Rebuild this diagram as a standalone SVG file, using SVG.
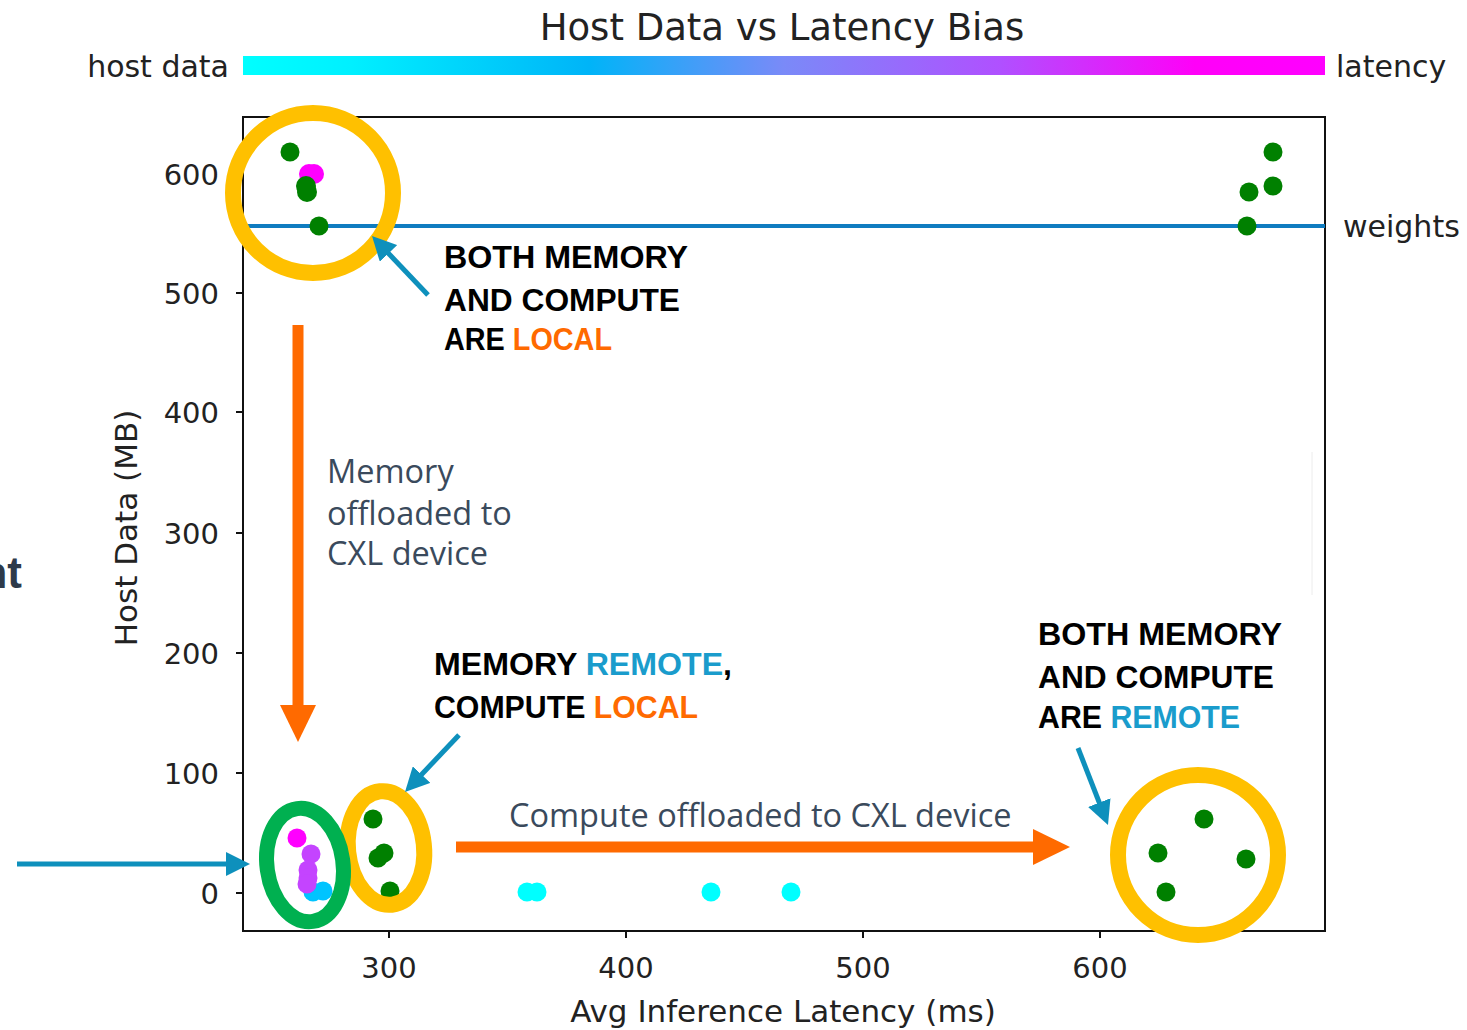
<svg xmlns="http://www.w3.org/2000/svg" width="1467" height="1030" viewBox="0 0 1467 1030">
<style>
.ax{font-family:"DejaVu Sans",sans-serif;font-size:30px;fill:#222}
.axl{font-family:"DejaVu Sans",sans-serif;font-size:31px;fill:#222}
.tk{font-family:"DejaVu Sans",sans-serif;font-size:29px;fill:#222}
.note{font-family:"Liberation Sans",Arial,sans-serif;font-weight:bold;font-size:32px;fill:#000}
.gray{font-family:"Open Sans",sans-serif;font-size:32.5px;fill:#3a4a5c}
.or{fill:#ff6a00}
.bl{fill:#1a9ccc}
.g{fill:#008000}
.c{fill:#00ffff}
.m{fill:#ff00ff}
.p{fill:#c444ff}
.lb{fill:#00c4ff}
.ring{fill:none;stroke:#ffc000;stroke-width:16}
.blue{stroke:#0e90bc;stroke-width:5;fill:none}
.orange{stroke:#ff6a00;stroke-width:11;fill:none}
</style>
<defs>
<linearGradient id="cb" x1="0" x2="1" y1="0" y2="0">
<stop offset="0" stop-color="#00ffff"/>
<stop offset="0.1" stop-color="#00f0ff"/>
<stop offset="0.32" stop-color="#00b4f8"/>
<stop offset="0.5" stop-color="#7a8af8"/>
<stop offset="0.7" stop-color="#b050ff"/>
<stop offset="0.88" stop-color="#ff00f8"/>
<stop offset="1" stop-color="#ff00ff"/>
</linearGradient>
<marker id="bh" viewBox="0 0 10 10" refX="6.67" refY="5" markerWidth="24" markerHeight="24" markerUnits="userSpaceOnUse" orient="auto">
<path d="M0,0 L10,5 L0,10 z" fill="#0e90bc"/>
</marker>
</defs>
<rect width="1467" height="1030" fill="#fff"/>

<g id="title">
<text x="782" y="40" text-anchor="middle" font-family="DejaVu Sans,sans-serif" font-size="37" fill="#222">Host Data vs Latency Bias</text>
</g>
<g id="colorbar">
<rect x="243" y="56" width="1082" height="19" fill="url(#cb)"/>
<text class="ax" x="229" y="77" text-anchor="end">host data</text>
<text class="ax" x="1336" y="77">latency</text>
</g>

<g id="axes">
<rect x="243" y="117" width="1082" height="814" fill="none" stroke="#111" stroke-width="2"/>
<g stroke="#111" stroke-width="2">
<line x1="236" y1="174" x2="243" y2="174"/>
<line x1="236" y1="293" x2="243" y2="293"/>
<line x1="236" y1="412" x2="243" y2="412"/>
<line x1="236" y1="533" x2="243" y2="533"/>
<line x1="236" y1="653" x2="243" y2="653"/>
<line x1="236" y1="773" x2="243" y2="773"/>
<line x1="236" y1="893" x2="243" y2="893"/>
<line x1="389" y1="931" x2="389" y2="938"/>
<line x1="626" y1="931" x2="626" y2="938"/>
<line x1="863" y1="931" x2="863" y2="938"/>
<line x1="1100" y1="931" x2="1100" y2="938"/>
</g>
<text class="tk" x="219" y="185" text-anchor="end">600</text>
<text class="tk" x="219" y="304" text-anchor="end">500</text>
<text class="tk" x="219" y="423" text-anchor="end">400</text>
<text class="tk" x="219" y="544" text-anchor="end">300</text>
<text class="tk" x="219" y="664" text-anchor="end">200</text>
<text class="tk" x="219" y="784" text-anchor="end">100</text>
<text class="tk" x="219" y="904" text-anchor="end">0</text>
<text class="tk" x="389" y="978" text-anchor="middle">300</text>
<text class="tk" x="626" y="978" text-anchor="middle">400</text>
<text class="tk" x="863" y="978" text-anchor="middle">500</text>
<text class="tk" x="1100" y="978" text-anchor="middle">600</text>
<text class="axl" x="783" y="1022" text-anchor="middle">Avg Inference Latency (ms)</text>
<text class="axl" transform="translate(137,528) rotate(-90)" text-anchor="middle">Host Data (MB)</text>
<line x1="1312" y1="452" x2="1312" y2="595" stroke="#ececec" stroke-width="1"/>
</g>

<g id="weights">
<line x1="243" y1="226" x2="1325" y2="226" stroke="#0f7cc0" stroke-width="4"/>
<text class="ax" x="1343" y="237">weights</text>
</g>

<g id="points">
<circle class="g" cx="290" cy="152" r="9.5"/>
<circle class="m" cx="309" cy="174" r="10"/>
<circle class="m" cx="314" cy="174" r="10"/>
<circle class="g" cx="306" cy="186" r="10"/>
<circle class="g" cx="307" cy="192" r="10"/>
<circle class="g" cx="319" cy="226" r="9.5"/>
<circle class="g" cx="1273" cy="152" r="9.5"/>
<circle class="g" cx="1273" cy="186" r="9.5"/>
<circle class="g" cx="1249" cy="192" r="9.5"/>
<circle class="g" cx="1247" cy="226" r="9.5"/>
<circle class="c" cx="527" cy="892" r="9.5"/>
<circle class="c" cx="537" cy="892" r="9.5"/>
<circle class="c" cx="711" cy="892" r="9.5"/>
<circle class="c" cx="791" cy="892" r="9.5"/>
<circle class="lb" cx="313" cy="892" r="9.5"/>
<circle class="lb" cx="323" cy="891" r="9.5"/>
<circle class="m" cx="297" cy="838" r="9.5"/>
<circle class="p" cx="311" cy="854" r="9.5"/>
<circle class="p" cx="308" cy="870" r="9.5"/>
<circle class="p" cx="308" cy="878" r="9.5"/>
<circle class="p" cx="307" cy="884" r="9.5"/>
<circle class="g" cx="373" cy="819" r="9.5"/>
<circle class="g" cx="378" cy="858" r="9.5"/>
<circle class="g" cx="384" cy="853" r="9.5"/>
<circle class="g" cx="390" cy="891" r="9.5"/>
<circle class="g" cx="1204" cy="819" r="9.5"/>
<circle class="g" cx="1158" cy="853" r="9.5"/>
<circle class="g" cx="1246" cy="859" r="9.5"/>
<circle class="g" cx="1166" cy="892" r="9.5"/>
</g>

<g id="rings">
<circle class="ring" cx="313" cy="193" r="80"/>
<circle class="ring" cx="1198" cy="855" r="80"/>
<ellipse class="ring" cx="386" cy="848" rx="38" ry="57" transform="rotate(-6 386 848)"/>
<ellipse cx="305" cy="865" rx="38" ry="57" transform="rotate(-8 305 865)" fill="none" stroke="#00b050" stroke-width="15"/>
</g>

<g id="connectors">
<line class="blue" x1="428" y1="295" x2="377.5" y2="241.8" marker-end="url(#bh)"/>
<line class="blue" x1="459" y1="735" x2="410.5" y2="786.2" marker-end="url(#bh)"/>
<line class="blue" x1="1078" y1="748" x2="1105.1" y2="817.5" marker-end="url(#bh)"/>
<line class="blue" x1="17" y1="864" x2="242" y2="864" marker-end="url(#bh)"/>
<line class="orange" x1="298" y1="325" x2="298" y2="707"/>
<polygon points="280,705 316,705 298,742" fill="#ff6a00"/>
<line class="orange" x1="456" y1="847" x2="1035" y2="847"/>
<polygon points="1033,829 1033,865 1070,847" fill="#ff6a00"/>
</g>

<g id="label-local">
<text class="note" x="444" y="268" textLength="244" lengthAdjust="spacingAndGlyphs">BOTH MEMORY</text>
<text class="note" x="444" y="311" textLength="236" lengthAdjust="spacingAndGlyphs">AND COMPUTE</text>
<text class="note" x="444" y="350" textLength="168" lengthAdjust="spacingAndGlyphs">ARE <tspan class="or">LOCAL</tspan></text>
</g>
<g id="label-mixed">
<text class="note" x="434" y="675" textLength="298" lengthAdjust="spacingAndGlyphs">MEMORY <tspan class="bl">REMOTE</tspan>,</text>
<text class="note" x="434" y="718" textLength="264" lengthAdjust="spacingAndGlyphs">COMPUTE <tspan class="or">LOCAL</tspan></text>
</g>
<g id="label-remote">
<text class="note" x="1038" y="645" textLength="244" lengthAdjust="spacingAndGlyphs">BOTH MEMORY</text>
<text class="note" x="1038" y="688" textLength="236" lengthAdjust="spacingAndGlyphs">AND COMPUTE</text>
<text class="note" x="1038" y="728" textLength="202" lengthAdjust="spacingAndGlyphs">ARE <tspan class="bl">REMOTE</tspan></text>
</g>
<g id="label-memory">
<text class="gray" x="327" y="483">Memory</text>
<text class="gray" x="327" y="525">offloaded to</text>
<text class="gray" x="327" y="565">CXL device</text>
</g>
<g id="label-compute">
<text class="gray" x="509" y="827">Compute offloaded to CXL device</text>
</g>
<g id="edge-text">
<text x="22" y="588" text-anchor="end" font-family="Liberation Sans,Arial,sans-serif" font-weight="bold" font-size="44" fill="#2e3a4a">nt</text>
</g>
</svg>
